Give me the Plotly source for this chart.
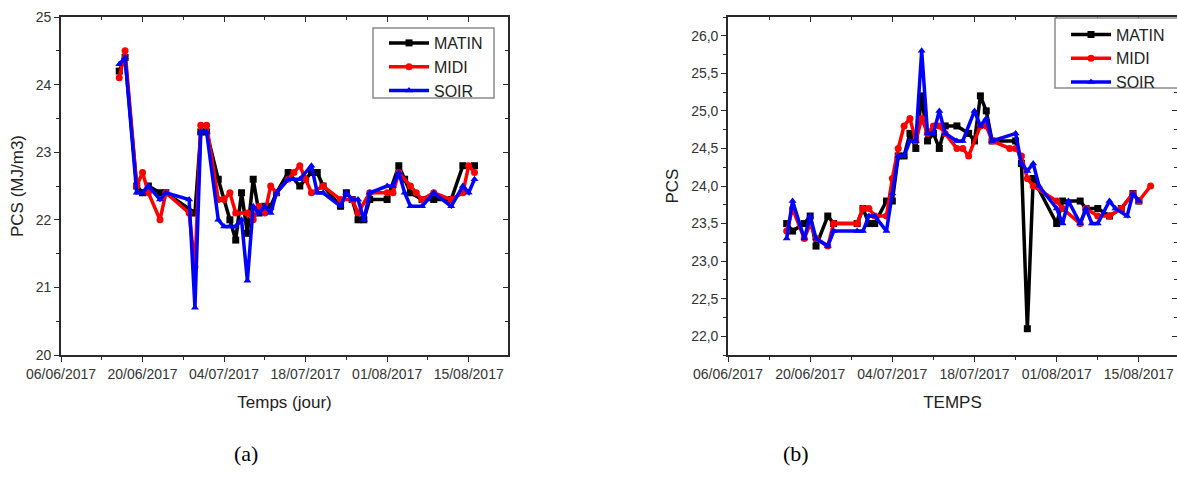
import plotly.graph_objects as go

# ---------------- data (a) ----------------
a_matin_dates = ["2017-06-16", "2017-06-17", "2017-06-19", "2017-06-20", "2017-06-21", "2017-06-23", "2017-06-24",
                 "2017-06-29", "2017-06-30", "2017-07-01", "2017-07-03", "2017-07-05", "2017-07-06", "2017-07-07",
                 "2017-07-08", "2017-07-09", "2017-07-10", "2017-07-11", "2017-07-12", "2017-07-13", "2017-07-15",
                 "2017-07-17", "2017-07-18", "2017-07-19", "2017-07-20", "2017-07-21", "2017-07-24", "2017-07-25",
                 "2017-07-26", "2017-07-27", "2017-07-28", "2017-07-29", "2017-08-01", "2017-08-03", "2017-08-04",
                 "2017-08-05", "2017-08-07", "2017-08-09", "2017-08-12", "2017-08-14", "2017-08-16"]
a_matin_pcs = [24.2, 24.4, 22.5, 22.4, 22.5, 22.4, 22.4,
               22.1, 23.3, 23.3, 22.6, 22.0, 21.7, 22.4,
               21.8, 22.6, 22.1, 22.2, 22.2, 22.4, 22.7,
               22.5, 22.6, 22.7, 22.7, 22.5, 22.2, 22.4,
               22.3, 22.0, 22.0, 22.3, 22.3, 22.8, 22.6,
               22.4, 22.3, 22.3, 22.3, 22.8, 22.8]

a_midi_dates = ["2017-06-16", "2017-06-17", "2017-06-19", "2017-06-20", "2017-06-21", "2017-06-23", "2017-06-24",
                "2017-06-28", "2017-06-29", "2017-06-30", "2017-07-01", "2017-07-03", "2017-07-04", "2017-07-05",
                "2017-07-06", "2017-07-08", "2017-07-09", "2017-07-10", "2017-07-11", "2017-07-12", "2017-07-13",
                "2017-07-15", "2017-07-16", "2017-07-17", "2017-07-18", "2017-07-19", "2017-07-21", "2017-07-24",
                "2017-07-26", "2017-07-27", "2017-07-29", "2017-08-01", "2017-08-02", "2017-08-03", "2017-08-05",
                "2017-08-06", "2017-08-07", "2017-08-09", "2017-08-12", "2017-08-14", "2017-08-15", "2017-08-16"]
a_midi_pcs = [24.1, 24.5, 22.5, 22.7, 22.4, 22.0, 22.4,
              22.1, 21.3, 23.4, 23.4, 22.3, 22.3, 22.4,
              22.1, 22.1, 22.0, 22.2, 22.1, 22.5, 22.4,
              22.6, 22.7, 22.8, 22.6, 22.4, 22.5, 22.3,
              22.3, 22.1, 22.4, 22.4, 22.4, 22.7, 22.5,
              22.4, 22.3, 22.4, 22.3, 22.4, 22.8, 22.7]

a_soir_dates = ["2017-06-16", "2017-06-17", "2017-06-19", "2017-06-20", "2017-06-21", "2017-06-23", "2017-06-24",
                "2017-06-28", "2017-06-29", "2017-06-30", "2017-07-01", "2017-07-03", "2017-07-04", "2017-07-05",
                "2017-07-06", "2017-07-07", "2017-07-08", "2017-07-09", "2017-07-10", "2017-07-11", "2017-07-12",
                "2017-07-13", "2017-07-15", "2017-07-17", "2017-07-19", "2017-07-20", "2017-07-21", "2017-07-24",
                "2017-07-25", "2017-07-26", "2017-07-27", "2017-07-28", "2017-07-29", "2017-08-01", "2017-08-02",
                "2017-08-03", "2017-08-04", "2017-08-05", "2017-08-07", "2017-08-09", "2017-08-12", "2017-08-14",
                "2017-08-15", "2017-08-16"]
a_soir_pcs = [24.3, 24.4, 22.4, 22.4, 22.5, 22.3, 22.4,
              22.3, 20.7, 23.3, 23.3, 22.0, 21.9, 21.9,
              21.9, 22.0, 21.1, 22.2, 22.1, 22.2, 22.1,
              22.4, 22.6, 22.6, 22.8, 22.4, 22.4, 22.2,
              22.4, 22.3, 22.3, 22.0, 22.4, 22.5, 22.5,
              22.7, 22.4, 22.2, 22.2, 22.4, 22.2, 22.5,
              22.4, 22.6]

# ---------------- data (b) ----------------
b_matin_dates = ["2017-06-16", "2017-06-17", "2017-06-19", "2017-06-20", "2017-06-21", "2017-06-23", "2017-06-24",
                 "2017-06-28", "2017-06-29", "2017-06-30", "2017-07-01", "2017-07-03", "2017-07-04", "2017-07-05",
                 "2017-07-06", "2017-07-07", "2017-07-08", "2017-07-09", "2017-07-10", "2017-07-11", "2017-07-12",
                 "2017-07-13", "2017-07-15", "2017-07-17", "2017-07-18", "2017-07-19", "2017-07-20", "2017-07-21",
                 "2017-07-25", "2017-07-26", "2017-07-27", "2017-07-28", "2017-08-01", "2017-08-02", "2017-08-05",
                 "2017-08-06", "2017-08-08", "2017-08-10", "2017-08-12", "2017-08-14", "2017-08-15"]
b_matin_pcs = [23.5, 23.4, 23.5, 23.6, 23.2, 23.6, 23.5,
               23.5, 23.7, 23.5, 23.5, 23.8, 23.8, 24.4,
               24.4, 24.7, 24.5, 25.2, 24.6, 24.7, 24.5,
               24.8, 24.8, 24.7, 24.6, 25.2, 25.0, 24.6,
               24.6, 24.3, 22.1, 24.1, 23.5, 23.8, 23.8,
               23.7, 23.7, 23.6, 23.7, 23.9, 23.8]

b_midi_dates = ["2017-06-16", "2017-06-17", "2017-06-19", "2017-06-20", "2017-06-21", "2017-06-23", "2017-06-24",
                "2017-06-28", "2017-06-29", "2017-06-30", "2017-07-01", "2017-07-03", "2017-07-04", "2017-07-05",
                "2017-07-06", "2017-07-07", "2017-07-08", "2017-07-09", "2017-07-10", "2017-07-11", "2017-07-12",
                "2017-07-13", "2017-07-15", "2017-07-16", "2017-07-17", "2017-07-19", "2017-07-20", "2017-07-21",
                "2017-07-24", "2017-07-25", "2017-07-26", "2017-07-27", "2017-07-28", "2017-08-01", "2017-08-02",
                "2017-08-05", "2017-08-06", "2017-08-08", "2017-08-10", "2017-08-12", "2017-08-14", "2017-08-15",
                "2017-08-17"]
b_midi_pcs = [23.4, 23.7, 23.3, 23.5, 23.3, 23.2, 23.5,
              23.5, 23.7, 23.7, 23.6, 23.6, 24.1, 24.5,
              24.8, 24.9, 24.6, 24.9, 24.7, 24.8, 24.8,
              24.7, 24.5, 24.5, 24.4, 24.8, 24.8, 24.6,
              24.5, 24.5, 24.4, 24.1, 24.0, 23.8, 23.7,
              23.5, 23.7, 23.6, 23.6, 23.7, 23.9, 23.8,
              24.0]

b_soir_dates = ["2017-06-16", "2017-06-17", "2017-06-19", "2017-06-20", "2017-06-21", "2017-06-23", "2017-06-24",
                "2017-06-28", "2017-06-29", "2017-06-30", "2017-07-01", "2017-07-03", "2017-07-04", "2017-07-05",
                "2017-07-06", "2017-07-07", "2017-07-08", "2017-07-09", "2017-07-10", "2017-07-11", "2017-07-12",
                "2017-07-13", "2017-07-15", "2017-07-16", "2017-07-18", "2017-07-19", "2017-07-20", "2017-07-21",
                "2017-07-25", "2017-07-26", "2017-07-27", "2017-07-28", "2017-07-29", "2017-08-01", "2017-08-02",
                "2017-08-03", "2017-08-05", "2017-08-06", "2017-08-07", "2017-08-08", "2017-08-10", "2017-08-11",
                "2017-08-13", "2017-08-14", "2017-08-15"]
b_soir_pcs = [23.3, 23.8, 23.3, 23.6, 23.3, 23.2, 23.4,
              23.4, 23.4, 23.6, 23.6, 23.4, 23.9, 24.4,
              24.4, 24.6, 24.6, 25.8, 24.7, 24.7, 25.0,
              24.7, 24.6, 24.6, 25.0, 24.8, 24.9, 24.6,
              24.7, 24.3, 24.2, 24.3, 24.0, 23.7, 23.5,
              23.8, 23.5, 23.7, 23.5, 23.5, 23.8, 23.7,
              23.6, 23.9, 23.8]

series_names = ["MATIN", "MIDI", "SOIR"]
series_colors = ["#000000", "#ff0000", "#0000ff"]
series_symbols = ["square", "circle", "triangle-up"]

a_ytick_vals = [20, 21, 22, 23, 24, 25]
a_ytick_text = ["20", "21", "22", "23", "24", "25"]
b_ytick_vals = [22.0, 22.5, 23.0, 23.5, 24.0, 24.5, 25.0, 25.5, 26.0]
b_ytick_text = ["22,0", "22,5", "23,0", "23,5", "24,0", "24,5", "25,0", "25,5", "26,0"]

# ---------------- figure ----------------
W, H = 1177, 481
fig = go.Figure()

panel_a = [(a_matin_dates, a_matin_pcs), (a_midi_dates, a_midi_pcs), (a_soir_dates, a_soir_pcs)]
panel_b = [(b_matin_dates, b_matin_pcs), (b_midi_dates, b_midi_pcs), (b_soir_dates, b_soir_pcs)]

for i, (d, v) in enumerate(panel_a):
    fig.add_trace(go.Scatter(x=d, y=v, mode="lines+markers", name=series_names[i],
                             line=dict(color=series_colors[i], width=3.5),
                             marker=dict(symbol=series_symbols[i], size=7, color=series_colors[i]),
                             xaxis="x", yaxis="y", legend="legend"))
for i, (d, v) in enumerate(panel_b):
    fig.add_trace(go.Scatter(x=d, y=v, mode="lines+markers", name=series_names[i],
                             line=dict(color=series_colors[i], width=3.5),
                             marker=dict(symbol=series_symbols[i], size=7, color=series_colors[i]),
                             xaxis="x2", yaxis="y2", legend="legend2"))

# empty helper traces so that mirror (inward tick) axes are drawn
for xa, ya in [("x3", "y"), ("x", "y3"), ("x4", "y2"), ("x2", "y4")]:
    fig.add_trace(go.Scatter(x=[], y=[], xaxis=xa, yaxis=ya, showlegend=False, hoverinfo="skip"))

def px_x(p):
    return p / W

def px_y(p):
    return 1 - p / H

DAY = 86400000
tick_font = dict(family="Liberation Sans, Arial", size=14, color="#333333")
title_font = dict(family="Liberation Sans, Arial", size=17, color="#222222")
axcol = "#2a2a2a"

a_xrange = ["2017-06-06", "2017-08-21 18:00"]
b_xrange = ["2017-06-06", "2017-08-21 12:00"]
a_yrange = [20, 25]
b_yrange = [21.75, 26.25]

ydom = [px_y(355), px_y(17)]
a_xdom = [px_x(61), px_x(508)]
b_xdom = [px_x(728), 1.0]

def xmain(dom, rng, anchor, title):
    return dict(domain=dom, range=rng, anchor=anchor, type="date",
                tick0="2017-06-06", dtick=14 * DAY, tickformat="%d/%m/%Y",
                ticks="outside", ticklen=5, tickwidth=1.3, tickcolor=axcol,
                minor=dict(dtick=7 * DAY, tick0="2017-06-06", ticks="outside", ticklen=3, tickcolor=axcol),
                showline=True, linecolor=axcol, linewidth=1.6, mirror=True,
                showgrid=False, zeroline=False, tickfont=tick_font,
                title=dict(text=title, font=title_font, standoff=16), automargin=False)

def xtop(over, rng, anchor):
    return dict(overlaying=over, side="top", range=rng, anchor=anchor, type="date",
                tick0="2017-06-06", dtick=14 * DAY, ticks="inside", ticklen=5, tickwidth=1.3, tickcolor=axcol,
                minor=dict(dtick=7 * DAY, tick0="2017-06-06", ticks="inside", ticklen=3, tickcolor=axcol),
                showticklabels=False, showline=False, showgrid=False, zeroline=False, automargin=False)

def ymain(dom, rng, anchor, title, vals, text, minor_dt):
    return dict(domain=dom, range=rng, anchor=anchor, tickvals=vals, ticktext=text,
                ticks="outside", ticklen=5, tickwidth=1.3, tickcolor=axcol,
                minor=dict(dtick=minor_dt, tick0=0, ticks="outside", ticklen=3, tickcolor=axcol),
                showline=True, linecolor=axcol, linewidth=1.6, mirror=True,
                showgrid=False, zeroline=False, tickfont=tick_font,
                title=dict(text=title, font=title_font, standoff=8), automargin=False)

def yright(over, rng, anchor, vals, minor_dt):
    return dict(overlaying=over, side="right", range=rng, anchor=anchor, tickvals=vals,
                ticks="inside", ticklen=5, tickwidth=1.3, tickcolor=axcol,
                minor=dict(dtick=minor_dt, tick0=0, ticks="inside", ticklen=3, tickcolor=axcol),
                showticklabels=False, showline=False, showgrid=False, zeroline=False, automargin=False)

legend_style = dict(font=dict(family="Liberation Sans, Arial", size=16, color="#222222"),
                    bgcolor="rgba(0,0,0,0)", borderwidth=0, itemwidth=40,
                    xanchor="left", yanchor="top", tracegroupgap=0)

# legend frames (drawn as white boxes with grey border, legend entries sit on top)
legend_frames = [
    dict(type="rect", xref="paper", yref="paper", layer="above",
         x0=px_x(373), x1=px_x(494), y0=px_y(98), y1=px_y(28),
         line=dict(color="#8c8c8c", width=1.5), fillcolor="white"),
    dict(type="rect", xref="paper", yref="paper", layer="above",
         x0=px_x(1055), x1=px_x(1185), y0=px_y(88), y1=px_y(18),
         line=dict(color="#8c8c8c", width=1.5), fillcolor="white"),
]

fig.update_layout(
    width=W, height=H,
    margin=dict(l=0, r=0, t=0, b=0),
    paper_bgcolor="white", plot_bgcolor="white",
    showlegend=True,
    xaxis=xmain(a_xdom, a_xrange, "y", "Temps (jour)"),
    yaxis=ymain(ydom, a_yrange, "x", "PCS (MJ/m3)", a_ytick_vals, a_ytick_text, 0.5),
    xaxis2=xmain(b_xdom, b_xrange, "y2", "TEMPS"),
    yaxis2=ymain(ydom, b_yrange, "x2", "PCS", b_ytick_vals, b_ytick_text, 0.25),
    xaxis3=xtop("x", a_xrange, "y"),
    yaxis3=yright("y", a_yrange, "x", a_ytick_vals, 0.5),
    xaxis4=xtop("x2", b_xrange, "y2"),
    yaxis4=yright("y2", b_yrange, "x2", b_ytick_vals, 0.25),
    legend=dict(x=px_x(384), y=px_y(26), **legend_style),
    legend2=dict(x=px_x(1066), y=px_y(17.5), **legend_style),
    shapes=legend_frames,
    annotations=[
        dict(text="(a)", x=px_x(232), y=px_y(468), xref="paper", yref="paper", showarrow=False,
             font=dict(family="Liberation Serif, Times New Roman", size=22, color="black")),
        dict(text="(b)", x=px_x(811), y=px_y(468), xref="paper", yref="paper", showarrow=False,
             font=dict(family="Liberation Serif, Times New Roman", size=22, color="black")),
    ],
)

fig.write_html("out.html")
